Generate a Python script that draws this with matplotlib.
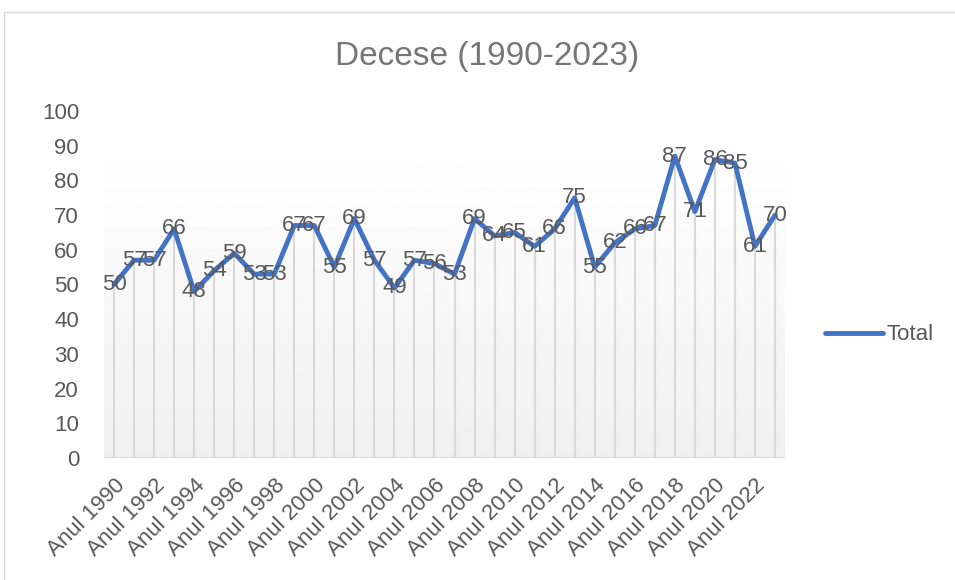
import numpy as np
import matplotlib
matplotlib.use("Agg")
import matplotlib.pyplot as plt
from matplotlib.patches import Rectangle

# --------------------------
# Data
# --------------------------
years = list(range(1990, 2024))
total = [50, 57, 57, 66, 48, 54, 59, 53, 53, 67, 67, 55, 69, 57, 49, 57, 56, 53,
         69, 64, 65, 61, 66, 75, 55, 62, 66, 67, 87, 71, 86, 85, 61, 70]
categories = [f"Anul {y}" for y in years]
y_ticks = list(range(0, 101, 10))

line_color = "#4472C4"
text_color = "#595959"
plt.rcParams['font.family'] = ['Liberation Sans', 'DejaVu Sans']

# --------------------------
# Figure
# --------------------------
fig = plt.figure(figsize=(9.55, 5.8), dpi=100)
fig.patches.append(Rectangle((4 / 955, -0.1), 1.2, (580 - 12) / 580 + 0.1,
                             transform=fig.transFigure, facecolor="white",
                             edgecolor="#d9d9d9", linewidth=1.0, zorder=-5))

ax = fig.add_axes([104 / 955, (580 - 458) / 580, (785 - 104) / 955, (458 - 111) / 580])
ax.set_facecolor("none")
x = np.arange(len(total))

# gradient background of the plot area
grad = np.linspace(0.94, 1.0, 256).reshape(-1, 1)
ax.imshow(grad, extent=(-0.5, len(total) - 0.5, 0, 90), origin="lower",
          cmap="gray", vmin=0, vmax=1, aspect="auto", zorder=0)

# drop lines
ax.vlines(x, 0, total, colors="#d9d9d9", linewidth=1.5, zorder=1)
ax.axhline(0, color="#d9d9d9", linewidth=1.5, zorder=1)

ax.plot(x, total, color=line_color, linewidth=3.5, solid_capstyle="round",
        solid_joinstyle="round", label="Total", zorder=3)

for xi, v in zip(x, total):
    ax.text(xi, v, str(v), ha="center", va="center", fontsize=16,
            color=text_color, zorder=4)

ax.set_xlim(-0.5, len(total) - 0.5)
ax.set_ylim(0, 100)
ax.set_yticks(y_ticks)
ax.set_yticklabels([str(t) for t in y_ticks], fontsize=16, color=text_color)
ax.set_xticks(x[::2])
ax.set_xticklabels(categories[::2], rotation=45, ha="right", va="top",
                   rotation_mode="anchor", fontsize=16, color=text_color)
ax.tick_params(axis="both", length=0)
ax.tick_params(axis="y", pad=18)
ax.tick_params(axis="x", pad=12)
for s in ax.spines.values():
    s.set_visible(False)

fig.text(487 / 955, 1 - 57 / 580, "Decese (1990-2023)", ha="center", va="center",
         fontsize=24, color="#767676")

leg = ax.legend(loc="center left", bbox_to_anchor=(1.03, 0.355), frameon=False,
                fontsize=16, handlelength=2.6, handletextpad=0.15)
for t in leg.get_texts():
    t.set_color(text_color)

fig.savefig("out.png", dpi=100)
